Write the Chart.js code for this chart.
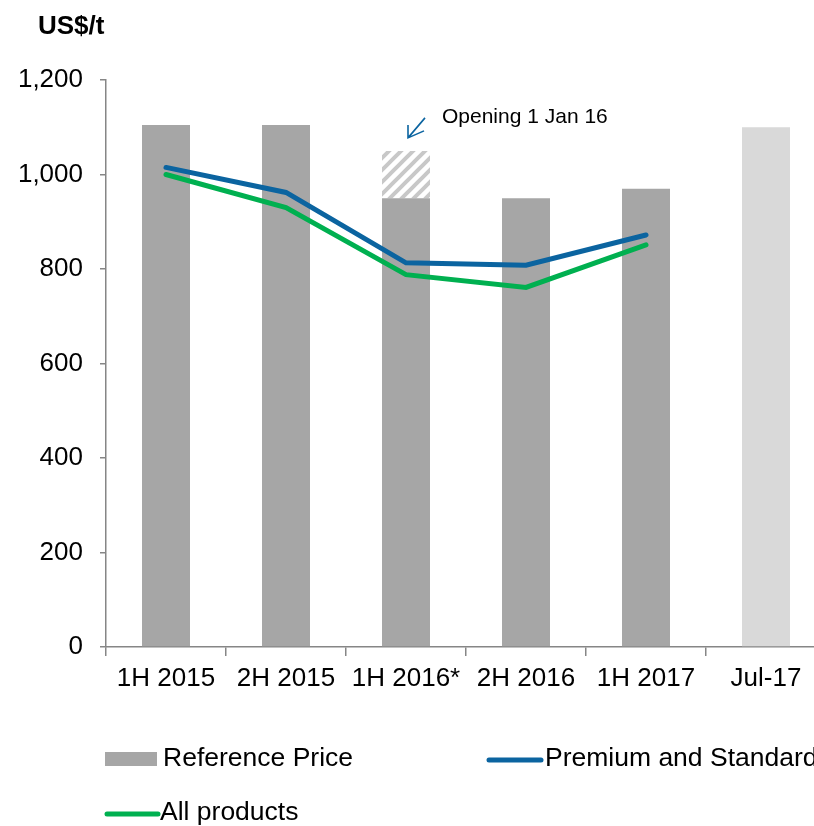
<!DOCTYPE html>
<html>
<head>
<meta charset="utf-8">
<script src="https://cdn.jsdelivr.net/npm/chart.js@4"></script>
<style>
  html, body { margin: 0; padding: 0; overflow: hidden; background: #fff; }
  #chart { display: block; }
</style>
</head>
<body>
<canvas id="chart" width="840" height="826"></canvas>
<script>
const categories = ["1H 2015", "2H 2015", "1H 2016*", "2H 2016", "1H 2017", "Jul-17"];
const referencePrice = [1105, 1105, 950, 950, 970, 1100];
const openingExtra = [null, null, 100, null, null, null]; // 1H 2016 opening price 1,050
const premiumStandard = [1015, 962, 813, 808, 872, null];
const allProducts = [1000, 930, 788, 761, 851, null];
const barColors = ["#A6A6A6", "#A6A6A6", "#A6A6A6", "#A6A6A6", "#A6A6A6", "#D9D9D9"];

const FONT = "'Liberation Sans', Arial, sans-serif";
const BLUE = "#0B64A0";
const GREEN = "#00B050";
const AXIS = "#868686";

const canvas = document.getElementById("chart");
const ctx = canvas.getContext("2d");

// diagonal hatch for the opening price part
function hatch() {
  const c = document.createElement("canvas");
  c.width = 12;
  c.height = 12;
  const g = c.getContext("2d");
  g.fillStyle = "#fff";
  g.fillRect(0, 0, 12, 12);
  g.strokeStyle = "#C8C8C8";
  g.lineWidth = 4;
  g.beginPath();
  g.moveTo(-6, 6); g.lineTo(6, -6);
  g.moveTo(0, 12); g.lineTo(12, 0);
  g.moveTo(6, 18); g.lineTo(18, 6);
  g.stroke();
  return ctx.createPattern(c, "repeat");
}

const extras = {
  id: "extras",
  afterDraw(chart) {
    const c = chart.ctx;
    const x = chart.scales.x;
    const y = chart.scales.y;
    c.save();
    // unit title
    c.fillStyle = "#000";
    c.font = "bold 26px " + FONT;
    c.textBaseline = "alphabetic";
    c.textAlign = "left";
    c.fillText("US$/t", 38, 34);

    // annotation with arrow
    const ax = x.getPixelForValue(2);
    const ay = y.getPixelForValue(openingExtra[2] + referencePrice[2]);
    const tipX = ax + 2, tipY = ay - 13;
    c.strokeStyle = BLUE;
    c.lineWidth = 1.6;
    c.beginPath();
    c.moveTo(tipX + 17, tipY - 20);
    c.lineTo(tipX, tipY);
    c.moveTo(tipX, tipY - 13);
    c.lineTo(tipX, tipY);
    c.lineTo(tipX + 16, tipY - 7);
    c.stroke();
    c.font = "21px " + FONT;
    c.fillStyle = "#000";
    c.textBaseline = "middle";
    c.fillText("Opening 1 Jan 16", tipX + 34, tipY - 21);

    // legend
    c.font = "26.5px " + FONT;
    c.textBaseline = "middle";
    const r1 = 759, r2 = 813;
    c.fillStyle = "#A6A6A6";
    c.fillRect(105, r1 - 7, 52, 14);
    c.fillStyle = "#000";
    c.fillText("Reference Price", 163, r1);

    c.lineCap = "round";
    c.lineWidth = 5;
    c.strokeStyle = BLUE;
    c.beginPath();
    c.moveTo(489, r1 + 1);
    c.lineTo(541, r1 + 1);
    c.stroke();
    c.fillStyle = "#000";
    c.fillText("Premium and Standard", 545, r1);

    c.strokeStyle = GREEN;
    c.beginPath();
    c.moveTo(107, r2 + 1);
    c.lineTo(158, r2 + 1);
    c.stroke();
    c.fillStyle = "#000";
    c.fillText("All products", 160, r2);
    c.restore();
  }
};

new Chart(canvas, {
  data: {
    labels: categories,
    datasets: [
      {
        type: "line",
        label: "Premium and Standard",
        data: premiumStandard,
        borderColor: BLUE,
        borderWidth: 5,
        borderCapStyle: "round",
        pointRadius: 0,
        tension: 0,
        stack: "premium",
        order: 1,
      },
      {
        type: "line",
        label: "All products",
        data: allProducts,
        borderColor: GREEN,
        borderWidth: 5,
        borderCapStyle: "round",
        pointRadius: 0,
        tension: 0,
        stack: "all",
        order: 1,
      },
      {
        type: "bar",
        label: "Reference Price",
        data: referencePrice,
        backgroundColor: barColors,
        barPercentage: 0.4,
        categoryPercentage: 1,
        stack: "ref",
        order: 2,
      },
      {
        type: "bar",
        label: "Opening",
        data: openingExtra,
        backgroundColor: hatch(),
        barPercentage: 0.4,
        categoryPercentage: 1,
        stack: "ref",
        order: 2,
      },
    ],
  },
  options: {
    responsive: false,
    devicePixelRatio: 1,
    animation: false,
    layout: { padding: { top: 80, left: 0, right: 14, bottom: 129 } },
    plugins: { legend: { display: false }, tooltip: { enabled: false } },
    scales: {
      x: {
        stacked: true,
        offset: true,
        grid: {
          offset: true,
          drawOnChartArea: false,
          tickLength: 9,
          color: AXIS,
          lineWidth: 1.5,
        },
        border: { color: AXIS, width: 1.5 },
        ticks: { color: "#000", font: { family: FONT, size: 26 }, padding: 7, maxRotation: 0, autoSkip: false },
        afterFit(scale) {
          scale.height = 50;
          scale.paddingLeft = 0;
          scale.paddingRight = 0;
        },
      },
      y: {
        stacked: true,
        min: 0,
        max: 1200,
        ticks: { stepSize: 200, color: "#000", font: { family: FONT, size: 26 }, padding: 17 },
        grid: {
          drawOnChartArea: false,
          tickLength: 6,
          color: AXIS,
          lineWidth: 1.5,
        },
        border: { color: AXIS, width: 1.5 },
        afterFit(scale) {
          scale.width = 106;
          scale.paddingTop = 0;
          scale.paddingBottom = 0;
        },
      },
    },
  },
  plugins: [extras],
});
</script>
</body>
</html>
